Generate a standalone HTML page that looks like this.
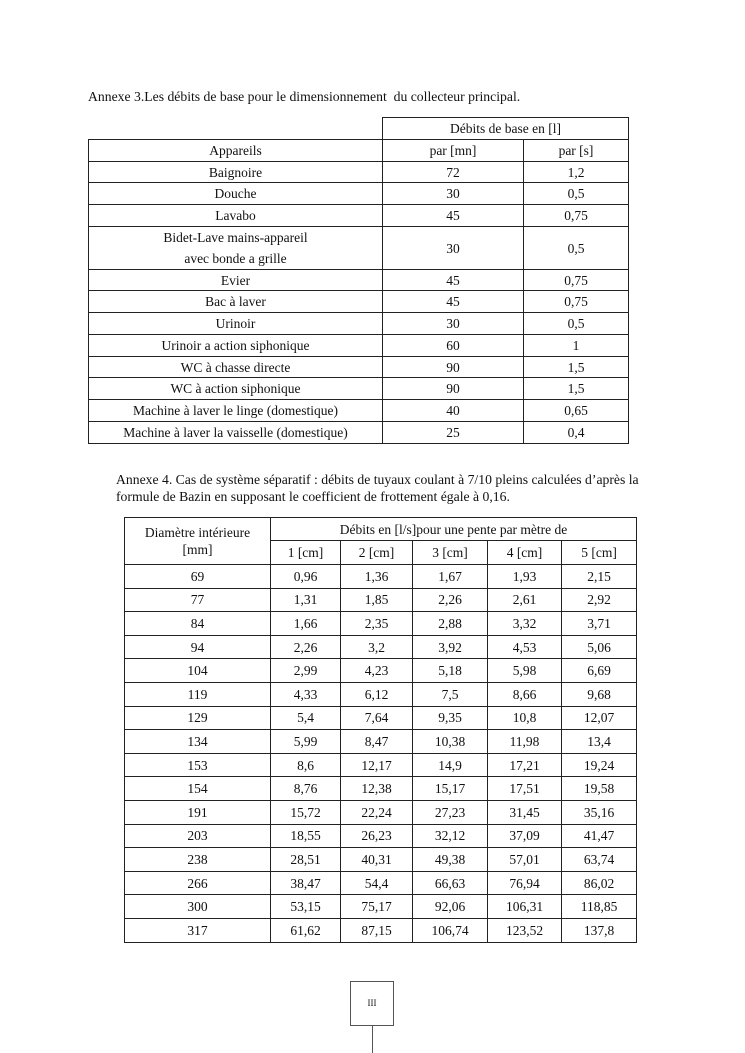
<!DOCTYPE html>
<html><head><meta charset="utf-8"><style>
html,body{margin:0;padding:0;background:#fff;}
body{width:745px;height:1053px;position:relative;overflow:hidden;font-family:"Liberation Serif",serif;font-size:13.7px;color:#111;}
.t{position:absolute;white-space:nowrap;line-height:17px;}
table{position:absolute;border-collapse:collapse;table-layout:fixed;}
td{border:1px solid #222;text-align:center;padding:0;vertical-align:middle;line-height:19px;font-size:13.5px;white-space:nowrap;}
td.n{border:none;}
</style></head><body>
<div class="t" style="left:88px;top:88px;">Annexe 3.Les débits de base pour le dimensionnement&nbsp; du collecteur principal.</div>
<table style="left:88px;top:117px;width:541px;">
<colgroup><col style="width:294px"><col style="width:141px"><col style="width:105px"></colgroup>
<tr style="height:22px"><td class="n" style="border-bottom:1px solid #222"></td><td colspan="2">Débits de base en [l]</td></tr>
<tr style="height:22px"><td>Appareils</td><td>par [mn]</td><td>par [s]</td></tr>
<tr style="height:21px"><td>Baignoire</td><td>72</td><td>1,2</td></tr>
<tr style="height:22px"><td>Douche</td><td>30</td><td>0,5</td></tr>
<tr style="height:22px"><td>Lavabo</td><td>45</td><td>0,75</td></tr>
<tr style="height:43px"><td style="line-height:21px">Bidet-Lave mains-appareil<br>avec bonde a grille</td><td>30</td><td>0,5</td></tr>
<tr style="height:21px"><td>Evier</td><td>45</td><td>0,75</td></tr>
<tr style="height:22px"><td>Bac à laver</td><td>45</td><td>0,75</td></tr>
<tr style="height:22px"><td>Urinoir</td><td>30</td><td>0,5</td></tr>
<tr style="height:22px"><td>Urinoir a action siphonique</td><td>60</td><td>1</td></tr>
<tr style="height:21px"><td>WC à chasse directe</td><td>90</td><td>1,5</td></tr>
<tr style="height:22px"><td>WC à action siphonique</td><td>90</td><td>1,5</td></tr>
<tr style="height:22px"><td>Machine à laver le linge (domestique)</td><td>40</td><td>0,65</td></tr>
<tr style="height:22px"><td>Machine à laver la vaisselle (domestique)</td><td>25</td><td>0,4</td></tr>
</table>
<div class="t" style="left:116px;top:471px;">Annexe 4. Cas de système séparatif : débits de tuyaux coulant à 7/10 pleins calculées d’après la</div>
<div class="t" style="left:116px;top:488px;">formule de Bazin en supposant le coefficient de frottement égale à 0,16.</div>
<table style="left:124px;top:517px;width:513px;">
<colgroup><col style="width:146px"><col style="width:70px"><col style="width:72px"><col style="width:75px"><col style="width:74px"><col style="width:75px"></colgroup>
<tr style="height:23px"><td rowspan="2" style="line-height:17px;vertical-align:top;padding-top:6px">Diamètre intérieure<br>[mm]</td><td colspan="5">Débits en [l/s]pour une pente par mètre de</td></tr>
<tr style="height:24px"><td>1 [cm]</td><td>2 [cm]</td><td>3 [cm]</td><td>4 [cm]</td><td>5 [cm]</td></tr>
<tr style="height:23.6px"><td>69</td><td>0,96</td><td>1,36</td><td>1,67</td><td>1,93</td><td>2,15</td></tr>
<tr style="height:23.6px"><td>77</td><td>1,31</td><td>1,85</td><td>2,26</td><td>2,61</td><td>2,92</td></tr>
<tr style="height:23.6px"><td>84</td><td>1,66</td><td>2,35</td><td>2,88</td><td>3,32</td><td>3,71</td></tr>
<tr style="height:23.6px"><td>94</td><td>2,26</td><td>3,2</td><td>3,92</td><td>4,53</td><td>5,06</td></tr>
<tr style="height:23.6px"><td>104</td><td>2,99</td><td>4,23</td><td>5,18</td><td>5,98</td><td>6,69</td></tr>
<tr style="height:23.6px"><td>119</td><td>4,33</td><td>6,12</td><td>7,5</td><td>8,66</td><td>9,68</td></tr>
<tr style="height:23.6px"><td>129</td><td>5,4</td><td>7,64</td><td>9,35</td><td>10,8</td><td>12,07</td></tr>
<tr style="height:23.6px"><td>134</td><td>5,99</td><td>8,47</td><td>10,38</td><td>11,98</td><td>13,4</td></tr>
<tr style="height:23.6px"><td>153</td><td>8,6</td><td>12,17</td><td>14,9</td><td>17,21</td><td>19,24</td></tr>
<tr style="height:23.6px"><td>154</td><td>8,76</td><td>12,38</td><td>15,17</td><td>17,51</td><td>19,58</td></tr>
<tr style="height:23.6px"><td>191</td><td>15,72</td><td>22,24</td><td>27,23</td><td>31,45</td><td>35,16</td></tr>
<tr style="height:23.6px"><td>203</td><td>18,55</td><td>26,23</td><td>32,12</td><td>37,09</td><td>41,47</td></tr>
<tr style="height:23.6px"><td>238</td><td>28,51</td><td>40,31</td><td>49,38</td><td>57,01</td><td>63,74</td></tr>
<tr style="height:23.6px"><td>266</td><td>38,47</td><td>54,4</td><td>66,63</td><td>76,94</td><td>86,02</td></tr>
<tr style="height:23.6px"><td>300</td><td>53,15</td><td>75,17</td><td>92,06</td><td>106,31</td><td>118,85</td></tr>
<tr style="height:23.6px"><td>317</td><td>61,62</td><td>87,15</td><td>106,74</td><td>123,52</td><td>137,8</td></tr>
</table>
<div style="position:absolute;left:350px;top:981px;width:42px;height:43px;border:1px solid #555;"></div>
<div class="t" style="left:350px;top:995px;width:44px;text-align:center;font-size:9px;">III</div>
<div style="position:absolute;left:372px;top:1025px;width:1px;height:28px;background:#555;"></div>
</body></html>
